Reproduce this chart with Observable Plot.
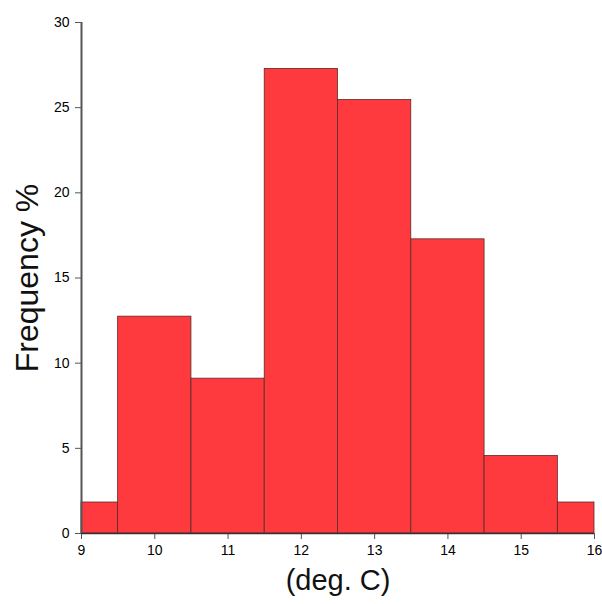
<!DOCTYPE html>
<html>
<head>
<meta charset="utf-8">
<script src="https://cdn.jsdelivr.net/npm/d3@7"></script>
<script src="https://cdn.jsdelivr.net/npm/@observablehq/plot@0.6"></script>
<style>
html,body{margin:0;padding:0;background:#fff;}
svg{font-family:"Liberation Sans",Arial,sans-serif;}
</style>
</head>
<body>
<div id="chart"></div>
<script>
const binStart = [9, 9.5, 10.5, 11.5, 12.5, 13.5, 14.5, 15.5];
const binEnd   = [9.5, 10.5, 11.5, 12.5, 13.5, 14.5, 15.5, 16];
const freq     = [1.82, 12.73, 9.09, 27.27, 25.45, 17.27, 4.55, 1.82];
const xTicks = [9, 10, 11, 12, 13, 14, 15, 16];
const yTicks = [0, 5, 10, 15, 20, 25, 30];

const data = freq.map((f, i) => ({x1: binStart[i], x2: binEnd[i], y: f}));

const chart = Plot.plot({
  width: 602,
  height: 604,
  marginLeft: 81,
  marginRight: 8,
  marginTop: 22,
  marginBottom: 71,
  style: {fontFamily: "Liberation Sans, Arial, sans-serif", background: "#fff"},
  x: {domain: [9, 16]},
  y: {domain: [0, 30]},
  marks: [
    Plot.rectY(data, {x1: "x1", x2: "x2", y: "y", fill: "#fe3a3e", stroke: "#5a2a2a", strokeWidth: 0.8, inset: 0}),
    Plot.axisX({ticks: xTicks, tickFormat: "d", tickSize: 6, tickPadding: 6, fontSize: 14, label: "(deg. C)", labelAnchor: "center", labelArrow: "none", labelOffset: 56, stroke: "#555"}),
    Plot.axisY({ticks: yTicks, tickFormat: "d", tickSize: 6, tickPadding: 6, fontSize: 14, label: "Frequency %", labelAnchor: "center", labelArrow: "none", labelOffset: 66, stroke: "#555"}),
    Plot.ruleX([9], {stroke: "#555", strokeWidth: 2}),
    Plot.ruleY([0], {stroke: "#333", strokeWidth: 1.5})
  ]
});
d3.select(chart).selectAll("g[aria-label='x-axis label'] text")
  .style("font-size", "29px").attr("fill", "#111");
d3.select(chart).selectAll("g[aria-label='y-axis label'] text")
  .style("font-size", "32px").attr("fill", "#111");
document.getElementById("chart").appendChild(chart);
</script>
</body>
</html>
